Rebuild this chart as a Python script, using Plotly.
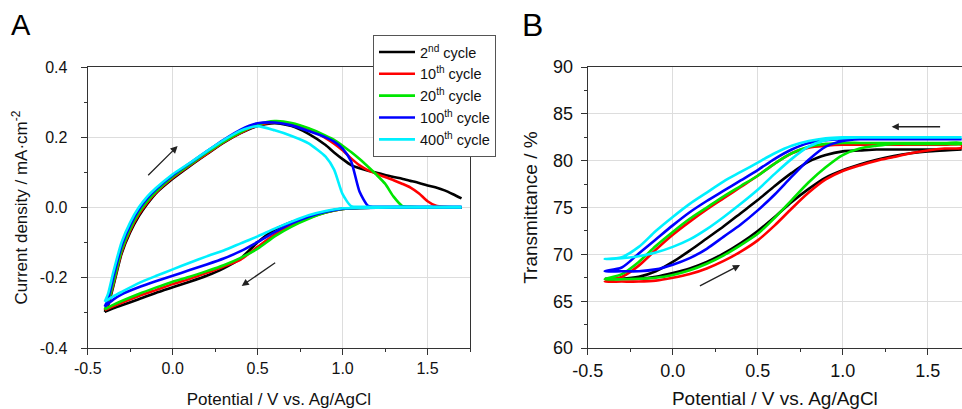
import plotly.graph_objects as go

# ---- panel A: cyclic voltammetry (current density, mA/cm2) ----
fwd_v = [-0.4, -0.38, -0.35, -0.3, -0.25, -0.2, -0.15, -0.1, 0.0, 0.1, 0.2, 0.3, 0.4, 0.5,
         0.6, 0.7, 0.8, 0.9, 0.95, 1.0, 1.05, 1.1, 1.15, 1.2, 1.25, 1.3, 1.35, 1.4, 1.45,
         1.5, 1.55, 1.6, 1.65, 1.7]
rev_v = [1.7, 1.5, 1.3, 1.1, 1.0, 0.9, 0.8, 0.7, 0.6, 0.5, 0.4, 0.3, 0.2, 0.1, 0.0,
         -0.1, -0.2, -0.3, -0.35, -0.4]

cv_2_fwd = [-0.297, -0.278, -0.225, -0.13, -0.07, -0.025, 0.01, 0.04, 0.082, 0.118, 0.152,
            0.185, 0.212, 0.232, 0.240, 0.232, 0.210, 0.178, 0.157, 0.138, 0.121, 0.112,
            0.105, 0.099, 0.093, 0.087, 0.082, 0.076, 0.070, 0.063, 0.057, 0.049, 0.038, 0.026]
cv_10_fwd = [-0.292, -0.272, -0.22, -0.125, -0.065, -0.02, 0.014, 0.042, 0.085, 0.12, 0.153,
             0.186, 0.213, 0.234, 0.243, 0.238, 0.224, 0.198, 0.182, 0.163, 0.14, 0.12,
             0.106, 0.096, 0.087, 0.078, 0.068, 0.057, 0.040, 0.018, 0.005, 0.002, 0.001, 0.001]
cv_20_fwd = [-0.29, -0.27, -0.215, -0.12, -0.06, -0.015, 0.018, 0.045, 0.088, 0.122, 0.156,
             0.188, 0.215, 0.236, 0.246, 0.241, 0.226, 0.205, 0.193, 0.176, 0.158, 0.138,
             0.116, 0.093, 0.068, 0.031, 0.005, 0.002, 0.001, 0.001, 0.001, 0.001, 0.001, 0.001]
cv_100_fwd = [-0.282, -0.26, -0.20, -0.108, -0.05, -0.006, 0.026, 0.051, 0.092, 0.126, 0.160,
              0.193, 0.222, 0.240, 0.242, 0.234, 0.218, 0.200, 0.188, 0.168, 0.132, 0.045,
              0.005, 0.002, 0.002, 0.002, 0.002, 0.002, 0.002, 0.002, 0.002, 0.002, 0.002, 0.002]
cv_400_fwd = [-0.268, -0.245, -0.185, -0.098, -0.042, 0.0, 0.031, 0.055, 0.095, 0.127, 0.160,
              0.192, 0.219, 0.232, 0.220, 0.204, 0.183, 0.145, 0.108, 0.038, 0.004, 0.002,
              0.002, 0.002, 0.002, 0.002, 0.002, 0.002, 0.002, 0.002, 0.002, 0.002, 0.002, 0.002]

cv_2_rev = [0.0, 0.0, 0.0, -0.001, -0.004, -0.013, -0.027, -0.041, -0.063, -0.099, -0.145,
            -0.173, -0.194, -0.211, -0.227, -0.243, -0.261, -0.278, -0.287, -0.297]
cv_10_rev = [0.0, 0.0, 0.0, -0.001, -0.004, -0.014, -0.03, -0.05, -0.077, -0.112, -0.148,
             -0.168, -0.186, -0.203, -0.218, -0.235, -0.252, -0.271, -0.281, -0.292]
cv_20_rev = [0.0, 0.0, 0.0, -0.001, -0.004, -0.014, -0.032, -0.054, -0.082, -0.117, -0.143,
             -0.164, -0.181, -0.197, -0.211, -0.228, -0.246, -0.266, -0.277, -0.29]
cv_100_rev = [0.0, 0.0, 0.0, -0.001, -0.003, -0.012, -0.026, -0.045, -0.07, -0.098, -0.124,
              -0.145, -0.162, -0.178, -0.194, -0.21, -0.227, -0.247, -0.262, -0.282]
cv_400_rev = [0.0, 0.0, 0.0, -0.001, -0.002, -0.01, -0.022, -0.04, -0.06, -0.082, -0.102,
              -0.122, -0.139, -0.157, -0.176, -0.195, -0.215, -0.24, -0.253, -0.268]

# ---- panel B: transmittance (%), both given on ascending potential ----
tr_v = [-0.4, -0.3, -0.2, -0.1, 0.0, 0.1, 0.2, 0.3, 0.4, 0.5, 0.6, 0.7, 0.8, 0.9, 1.0,
        1.1, 1.2, 1.3, 1.4, 1.5, 1.6, 1.7]

tr_2_fwd = [67.4, 67.4, 67.4, 67.6, 68.0, 68.5, 69.2, 70.1, 71.2, 72.5, 74.0, 75.6, 77.0,
            78.2, 79.0, 79.6, 80.1, 80.5, 80.8, 81.0, 81.1, 81.2]
tr_2_rev = [67.4, 67.4, 67.6, 68.2, 69.2, 70.4, 71.7, 73.0, 74.4, 75.8, 77.3, 78.7, 79.9,
            80.6, 81.0, 81.1, 81.2, 81.2, 81.2, 81.2, 81.2, 81.2]
tr_10_fwd = [67.1, 67.1, 67.1, 67.2, 67.5, 67.9, 68.5, 69.3, 70.3, 71.5, 73.1, 74.9, 76.6,
             78.0, 78.9, 79.5, 80.0, 80.4, 80.8, 81.1, 81.3, 81.4]
tr_10_rev = [67.1, 67.6, 68.8, 70.5, 72.1, 73.5, 74.8, 76.0, 77.2, 78.4, 79.7, 80.8, 81.4,
             81.6, 81.7, 81.7, 81.7, 81.7, 81.7, 81.7, 81.7, 81.7]
tr_20_fwd = [67.35, 67.35, 67.4, 67.5, 67.8, 68.3, 69.0, 69.9, 71.0, 72.2, 73.9, 75.8, 77.7,
             79.3, 80.6, 81.3, 81.6, 81.8, 81.8, 81.8, 81.8, 81.8]
tr_20_rev = [67.35, 67.9, 69.2, 70.9, 72.4, 73.8, 75.0, 76.2, 77.3, 78.4, 79.7, 80.8, 81.5,
             81.8, 81.9, 81.9, 81.9, 81.9, 81.9, 81.9, 81.9, 81.9]
tr_100_fwd = [68.2, 68.2, 68.2, 68.4, 68.9, 69.6, 70.6, 71.9, 73.2, 74.7, 76.4, 78.3, 80.1,
              81.5, 82.1, 82.3, 82.3, 82.3, 82.3, 82.3, 82.3, 82.3]
tr_100_rev = [68.2, 68.6, 70.1, 71.6, 73.1, 74.5, 75.7, 76.8, 77.9, 79.0, 80.2, 81.2, 81.9,
              82.2, 82.3, 82.3, 82.3, 82.3, 82.3, 82.3, 82.3, 82.3]
tr_400_fwd = [69.5, 69.6, 69.8, 70.2, 70.8, 71.6, 72.7, 74.0, 75.4, 76.9, 78.6, 80.2, 81.5,
              82.2, 82.4, 82.5, 82.5, 82.5, 82.5, 82.5, 82.5, 82.5]
tr_400_rev = [69.5, 69.7, 70.8, 72.5, 74.0, 75.4, 76.6, 77.8, 78.8, 79.8, 80.8, 81.6, 82.1,
              82.4, 82.5, 82.5, 82.5, 82.5, 82.5, 82.5, 82.5, 82.5]

cycles = ["2<sup>nd</sup> cycle", "10<sup>th</sup> cycle", "20<sup>th</sup> cycle",
          "100<sup>th</sup> cycle", "400<sup>th</sup> cycle"]
colors = ["#000000", "#ff0000", "#00e600", "#0000ff", "#00f0ff"]

cv_fwd = [cv_2_fwd, cv_10_fwd, cv_20_fwd, cv_100_fwd, cv_400_fwd]
cv_rev = [cv_2_rev, cv_10_rev, cv_20_rev, cv_100_rev, cv_400_rev]
tr_fwd = [tr_2_fwd, tr_10_fwd, tr_20_fwd, tr_100_fwd, tr_400_fwd]
tr_rev = [tr_2_rev, tr_10_rev, tr_20_rev, tr_100_rev, tr_400_rev]

FONT = "Arial, Liberation Sans, sans-serif"

fig = go.Figure()
for i in range(5):
    # forward and backward sweep in one trace, separated by a gap
    fig.add_trace(go.Scatter(
        x=fwd_v + [None] + rev_v,
        y=cv_fwd[i] + [None] + cv_rev[i],
        mode="lines", name=cycles[i],
        line=dict(color=colors[i], width=2.6, shape="spline", smoothing=0.6),
        xaxis="x", yaxis="y", legendgroup=str(i)))
for i in range(5):
    fig.add_trace(go.Scatter(
        x=tr_v + tr_v[::-1],
        y=tr_fwd[i] + tr_rev[i][::-1],
        mode="lines", name=cycles[i], showlegend=False,
        line=dict(color=colors[i], width=2.6, shape="spline", smoothing=0.8),
        xaxis="x2", yaxis="y2", legendgroup=str(i)))

axis_common = dict(showline=True, linecolor="#333333", linewidth=1.3,
                   ticks="outside", ticklen=6, tickcolor="#333333", tickwidth=1.2,
                   showgrid=True, gridcolor="#dddddd", gridwidth=1, zeroline=False,
                   automargin=False)

x_ticks = [-0.5, 0.0, 0.5, 1.0, 1.5]
x_labels = ["-0.5", "0.0", "0.5", "1.0", "1.5"]
cv_ticks = [-0.4, -0.2, 0.0, 0.2, 0.4]
cv_labels = ["-0.4", "-0.2", "0.0", "0.2", "0.4"]
tr_ticks = [60, 65, 70, 75, 80, 85, 90]

fig.update_layout(
    width=962, height=409,
    margin=dict(l=0, r=0, t=0, b=0),
    paper_bgcolor="white", plot_bgcolor="white",
    font=dict(family=FONT, color="#111111"),
    xaxis=dict(domain=[0.0912, 0.4886], range=[-0.5, 1.75], mirror=True,
               tickvals=x_ticks, ticktext=x_labels, tickfont=dict(size=16),
               minor=dict(dtick=0.25, tick0=-0.5, ticks="outside", ticklen=3,
                          tickcolor="#333333", showgrid=False),
               title=dict(text="Potential / V vs. Ag/AgCl", font=dict(size=17), standoff=17),
               anchor="y", **axis_common),
    yaxis=dict(domain=[0.149, 0.836], range=[-0.4, 0.4], mirror=True,
               tickvals=cv_ticks, ticktext=cv_labels, tickfont=dict(size=16),
               ticklabelstandoff=10,
               minor=dict(dtick=0.1, tick0=-0.4, ticks="outside", ticklen=3,
                          tickcolor="#333333", showgrid=False),
               title=dict(text="Current density / mA·cm<sup>-2</sup>", font=dict(size=17),
                          standoff=7),
               anchor="x", **axis_common),
    xaxis2=dict(domain=[0.611, 1.0], range=[-0.5, 1.702], mirror=True,
                tickvals=x_ticks, ticktext=x_labels, tickfont=dict(size=18),
                minor=dict(dtick=0.25, tick0=-0.5, ticks="outside", ticklen=3,
                           tickcolor="#333333", showgrid=False),
                title=dict(text="Potential / V vs. Ag/AgCl", font=dict(size=19), standoff=14),
                anchor="y2", **axis_common),
    yaxis2=dict(domain=[0.149, 0.836], range=[60, 90], mirror=False,
                tickvals=tr_ticks, tickfont=dict(size=18), ticklabelstandoff=4,
                minor=dict(dtick=2.5, tick0=60, ticks="outside", ticklen=3,
                           tickcolor="#333333", showgrid=False),
                title=dict(text="Transmittance / %", font=dict(size=19), standoff=10),
                anchor="x2", **axis_common),
    legend=dict(x=373 / 962, y=1 - 35 / 409, xanchor="left", yanchor="top",
                bgcolor="white", bordercolor="#555555", borderwidth=1, itemwidth=36,
                font=dict(size=14.5, family=FONT), tracegroupgap=0),
)

# panel letters
fig.add_annotation(text="A", x=21 / 962, y=1 - 25 / 409, xref="paper", yref="paper",
                   xanchor="center", yanchor="middle", showarrow=False,
                   font=dict(size=29, family=FONT, color="black"))
fig.add_annotation(text="B", x=532 / 962, y=1 - 25 / 409, xref="paper", yref="paper",
                   xanchor="center", yanchor="middle", showarrow=False,
                   font=dict(size=32, family=FONT, color="black"))

# scan direction arrows (tail -> head)
arrows = [("x", "y", -0.153, 0.088, 0.029, 0.175),
          ("x", "y", 0.612, -0.154, 0.406, -0.223),
          ("x2", "y2", 1.582, 83.63, 1.288, 83.63),
          ("x2", "y2", 0.151, 66.55, 0.396, 68.86)]
for xr, yr, x0, y0, x1, y1 in arrows:
    fig.add_annotation(x=x1, y=y1, ax=x0, ay=y0, xref=xr, yref=yr, axref=xr, ayref=yr,
                       text="", showarrow=True, arrowhead=2, arrowsize=1.1,
                       arrowwidth=1.3, arrowcolor="#222222")

# the page's default body margin would shift the figure by 8px
fig.write_html("out.html", config={"displayModeBar": False},
               post_script="document.body.style.margin='0px';")
